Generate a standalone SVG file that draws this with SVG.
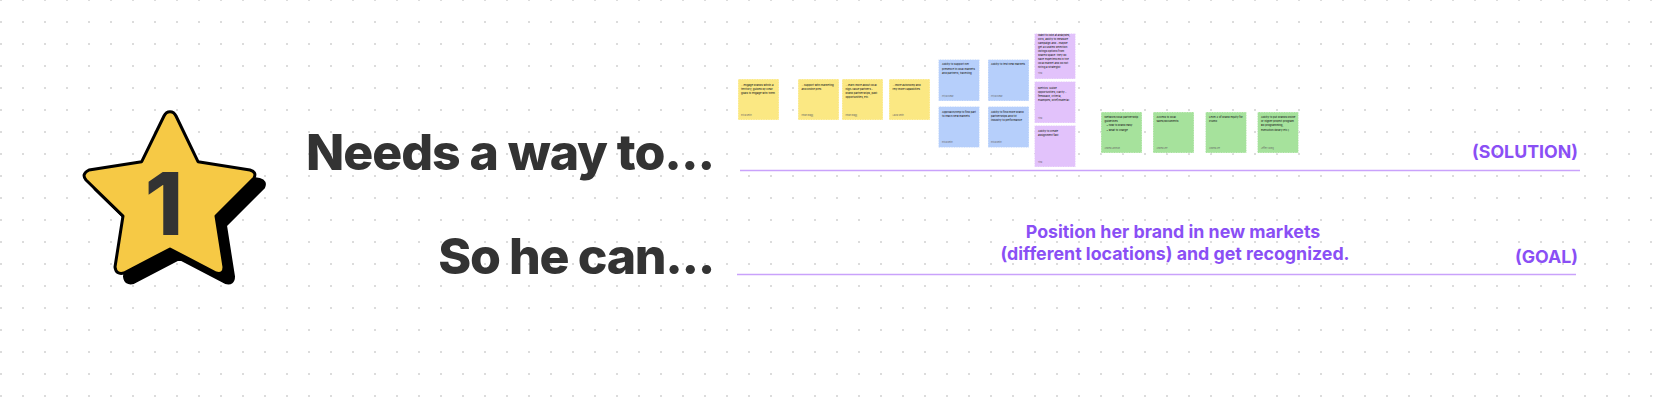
<svg xmlns="http://www.w3.org/2000/svg" width="1664" height="404" viewBox="0 0 1664 404">
<style>
.h{font-family:Inter,"Liberation Sans",sans-serif;font-weight:800;font-size:50px;fill:#333333;letter-spacing:-1.35px}
.p{font-family:Inter,"Liberation Sans",sans-serif;font-weight:700;font-size:17.8px;fill:#8a4ff5}
.n{stroke:#fff;stroke-width:0.6;stroke-dasharray:1.5 1}
.t{font-family:Inter,"Liberation Sans",sans-serif;font-size:2.7px;font-weight:500;fill:#222}
.f{font-family:Inter,"Liberation Sans",sans-serif;font-size:2px;fill:#666}
.y{fill:#fbe883}.b{fill:#b6cffb}.v{fill:#e2c2fb}.g{fill:#a6e29c}
</style>
<defs>
<pattern id="d" x="0" y="-1" width="22" height="22" patternUnits="userSpaceOnUse"><rect x="0" y="0" width="2" height="2" fill="#dcdcdc"/></pattern>
<clipPath id="sc"><rect x="60" y="173" width="240" height="140"/></clipPath>
</defs>
<rect width="1664" height="404" fill="#fff"/>
<rect width="1664" height="404" fill="url(#d)"/>
<g id="star">
<g clip-path="url(#sc)"><path d="M170 111.7Q174 111.7 176 116L198 161.7L250 170Q257 172 254 178L216 216L224 267Q224 275 216 273L170 249L124 273Q116 275 115 267L123 216L86 180Q81 174 89 170L141.7 161.7L164 116Q166 111.7 170 111.7Z" fill="#000" stroke="#000" stroke-width="3" stroke-linejoin="round" transform="translate(9.5 9.5)"/></g>
<path d="M170 111.7Q174 111.7 176 116L198 161.7L250 170Q257 172 254 178L216 216L224 267Q224 275 216 273L170 249L124 273Q116 275 115 267L123 216L86 180Q81 174 89 170L141.7 161.7L164 116Q166 111.7 170 111.7Z" fill="#f6c945" stroke="#000" stroke-width="3" stroke-linejoin="round"/>
<text x="164" y="235" text-anchor="middle" style="font-family:Inter,'Liberation Sans',sans-serif;font-weight:800;font-size:87px;fill:#333">1</text>
</g>
<g id="label-needs"><text class="h" x="306" y="170" style="letter-spacing:-1.05px">Needs a way to...</text></g>
<g id="label-so"><text class="h" x="714" y="274" text-anchor="end">So he can...</text></g>
<g id="connectors">
<line x1="740" y1="170.5" x2="1580" y2="170.5" stroke="#c9a2fb" stroke-width="1.5"/>
<line x1="737" y1="274.5" x2="1576" y2="274.5" stroke="#c9a2fb" stroke-width="1.5"/>
</g>
<g id="label-solution"><text class="p" x="1578" y="158" text-anchor="end">(SOLUTION)</text></g>
<g id="label-goal"><text class="p" x="1578" y="262.5" text-anchor="end">(GOAL)</text></g>
<g id="label-position"><text class="p" x="1173" y="238" text-anchor="middle">Position her brand in new markets</text><text class="p" x="1175" y="260" text-anchor="middle">(different locations) and get recognized.</text></g>
<g id="note-y1"><rect class="y n" x="738" y="79" width="41" height="41"/><text class="t" x="741" y="85.5">...engage brands within a</text><text class="t" x="741" y="89.7">territory, guided by clear</text><text class="t" x="741" y="93.9">goals to engage with them</text><text class="f" x="741" y="116">Erica Smith</text></g>
<g id="note-y2"><rect class="y n" x="798" y="79" width="41" height="41"/><text class="t" x="801.5" y="85.5">...support with marketing</text><text class="t" x="801.5" y="89.7">and online pres</text><text class="f" x="801.5" y="116">Ethan Bragg</text></g>
<g id="note-y3"><rect class="y n" x="842" y="79" width="41" height="41"/><text class="t" x="845.5" y="85.5">...learn more about local</text><text class="t" x="845.5" y="89.7">high-value partners -</text><text class="t" x="845.5" y="93.9">brand partnerships, past</text><text class="t" x="845.5" y="98.1">opportunities, etc.</text><text class="f" x="845.5" y="116">Ethan Bragg</text></g>
<g id="note-y4"><rect class="y n" x="889" y="79" width="41" height="41"/><text class="t" x="892.5" y="85.5">...more autonomy and</text><text class="t" x="892.5" y="89.7">rely more capabilities</text><text class="f" x="892.5" y="116">Laura Smith</text></g>
<g id="note-b1"><rect class="b n" x="938.5" y="59.5" width="41" height="41.5"/><text class="t" x="942" y="65.3">Ability to support her</text><text class="t" x="942" y="69.5">presence in local markets</text><text class="t" x="942" y="73.7">and partners, travelling</text><text class="f" x="942" y="96.5">Priya Kumar</text></g>
<g id="note-b2"><rect class="b n" x="988" y="59.5" width="41" height="41.5"/><text class="t" x="991" y="65.3">Ability to test new markets</text><text class="f" x="991" y="96.5">Priya Kumar</text></g>
<g id="note-b3"><rect class="b n" x="938.5" y="106.5" width="41" height="41"/><text class="t" x="942" y="113">Approach/help to find part</text><text class="t" x="942" y="117">to reach new markets</text><text class="f" x="942" y="143">Erica Smith</text></g>
<g id="note-b4"><rect class="b n" x="988" y="106.5" width="41" height="41"/><text class="t" x="991" y="113">Ability to find more brand</text><text class="t" x="991" y="117">partnerships and tilt</text><text class="t" x="991" y="121">industry to performance</text><text class="f" x="991" y="143">Erica Smith</text></g>
<g id="note-v1"><rect class="v n" x="1034.5" y="33.5" width="41" height="45.5"/><text class="t" x="1038" y="36">Want to look at analyses,</text><text class="t" x="1038" y="40">KPIs, ability to measure</text><text class="t" x="1038" y="44.1">campaign and - maybe</text><text class="t" x="1038" y="48.1">get a curated selection</text><text class="t" x="1038" y="52.2">listings options from</text><text class="t" x="1038" y="56.2">shared space. they do</text><text class="t" x="1038" y="60.3">have experienced in the</text><text class="t" x="1038" y="64.3">local market and do not</text><text class="t" x="1038" y="68.4">hiring a strategist</text><text class="f" x="1038" y="74">Tina</text></g>
<g id="note-v2"><rect class="v n" x="1034.5" y="81.5" width="41" height="41.5"/><text class="t" x="1038" y="88.5">Metrics: Guide</text><text class="t" x="1038" y="92.7">opportunities, clarity -</text><text class="t" x="1038" y="97">feedback, criteria,</text><text class="t" x="1038" y="101">examples, brief/material</text><text class="f" x="1038" y="118.5">Tina</text></g>
<g id="note-v3"><rect class="v n" x="1034.5" y="125.5" width="41" height="41.5"/><text class="t" x="1038" y="132">Ability to create</text><text class="t" x="1038" y="136">assignment fast</text><text class="f" x="1038" y="162.5">Tina</text></g>
<g id="note-g1"><rect class="g n" x="1101" y="112" width="41" height="41"/><text class="t" x="1104.5" y="118">Network/local partnership</text><text class="t" x="1104.5" y="122">guidelines</text><text class="t" x="1106.5" y="126">• how to brand easy</text><text class="t" x="1106.5" y="130.5">• what to charge</text><text class="f" x="1104.5" y="149">Andrea Johnson</text></g>
<g id="note-g2"><rect class="g n" x="1153" y="112" width="41" height="41"/><text class="t" x="1156.5" y="118">Access to local</text><text class="t" x="1156.5" y="122">sales/documents</text><text class="f" x="1156.5" y="149">Andrea Lee</text></g>
<g id="note-g3"><rect class="g n" x="1205.5" y="112" width="41" height="41"/><text class="t" x="1209" y="118">Level 2 of brand equity for</text><text class="t" x="1209" y="122">Plumo</text><text class="f" x="1209" y="149">Andrea Lee</text></g>
<g id="note-g4"><rect class="g n" x="1257.5" y="112" width="41" height="41"/><text class="t" x="1261" y="118">Ability to put brands online</text><text class="t" x="1261" y="122">or higher project program</text><text class="t" x="1261" y="126">ED programming,</text><text class="t" x="1261" y="130.5">execution library etc.)</text><text class="f" x="1261" y="149">Jeffery Wong</text></g>
</svg>
